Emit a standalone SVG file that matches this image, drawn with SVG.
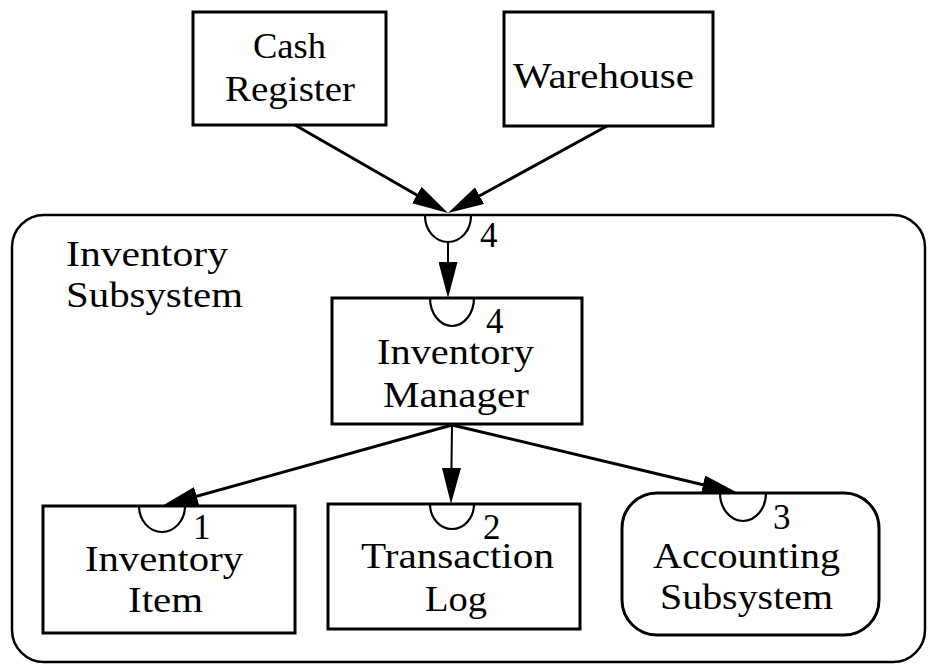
<svg xmlns="http://www.w3.org/2000/svg" width="928" height="664" viewBox="0 0 928 664">
  <style>
    .box { fill: #fff; stroke: #000; stroke-width: 3; }
    .frame { fill: none; stroke: #000; stroke-width: 2.5; }
    .port { fill: none; stroke: #000; stroke-width: 2.2; }
    .lbl { font-family: "Liberation Serif", "Times New Roman", serif; font-size: 35px; fill: #000; }
    .edge { fill: none; stroke: #000; stroke-width: 3; }
    .edge.thin { stroke-width: 2; }
  </style>
  <defs>
    <marker id="arrow" viewBox="0 0 36 19" refX="28" refY="9.5" markerWidth="36" markerHeight="19" markerUnits="userSpaceOnUse" orient="auto">
      <path d="M0,0 L36,9.5 L0,19 z" fill="#000"/>
    </marker>
  </defs>

  <!-- enclosing subsystem -->
  <g id="inventory-subsystem">
    <rect class="frame" x="12" y="215" width="913" height="447" rx="32" ry="32"/>
    <path class="port" d="M425,216 A23,26 0 0 0 471,216"/>
    <text class="lbl" x="480" y="247">4</text>
    <text class="lbl" x="66" y="266" textLength="162" lengthAdjust="spacingAndGlyphs">Inventory</text>
    <text class="lbl" x="66" y="307" textLength="177" lengthAdjust="spacingAndGlyphs">Subsystem</text>
  </g>

  <g id="cash-register">
    <rect class="box" x="193" y="12" width="193" height="113"/>
    <text class="lbl" x="253" y="58" textLength="73" lengthAdjust="spacingAndGlyphs">Cash</text>
    <text class="lbl" x="225" y="101" textLength="130" lengthAdjust="spacingAndGlyphs">Register</text>
  </g>

  <g id="warehouse">
    <rect class="box" x="504" y="12" width="209" height="114"/>
    <text class="lbl" x="513" y="88" textLength="181" lengthAdjust="spacingAndGlyphs">Warehouse</text>
  </g>

  <g id="inventory-manager">
    <rect class="box" x="332" y="298" width="250" height="126"/>
    <path class="port" d="M430,298 A22,28 0 0 0 474,298"/>
    <text class="lbl" x="486" y="333">4</text>
    <text class="lbl" x="377" y="364" textLength="157" lengthAdjust="spacingAndGlyphs">Inventory</text>
    <text class="lbl" x="383" y="407" textLength="146" lengthAdjust="spacingAndGlyphs">Manager</text>
  </g>

  <g id="inventory-item">
    <rect class="box" x="43" y="506" width="252" height="127"/>
    <path class="port" d="M139,506 A23,26 0 0 0 185,506"/>
    <text class="lbl" x="193" y="539">1</text>
    <text class="lbl" x="85" y="571" textLength="158" lengthAdjust="spacingAndGlyphs">Inventory</text>
    <text class="lbl" x="128" y="612" textLength="75" lengthAdjust="spacingAndGlyphs">Item</text>
  </g>

  <g id="transaction-log">
    <rect class="box" x="328" y="504" width="252" height="125"/>
    <path class="port" d="M430,504 A22,25 0 0 0 474,504"/>
    <text class="lbl" x="483" y="539">2</text>
    <text class="lbl" x="361" y="568" textLength="193" lengthAdjust="spacingAndGlyphs">Transaction</text>
    <text class="lbl" x="425" y="611" textLength="62" lengthAdjust="spacingAndGlyphs">Log</text>
  </g>

  <g id="accounting-subsystem">
    <rect class="box" x="622" y="493" width="257" height="142" rx="35" ry="35"/>
    <path class="port" d="M720,493 A23,28 0 0 0 766,493"/>
    <text class="lbl" x="773" y="529">3</text>
    <text class="lbl" x="653" y="568" textLength="187" lengthAdjust="spacingAndGlyphs">Accounting</text>
    <text class="lbl" x="660" y="609" textLength="173" lengthAdjust="spacingAndGlyphs">Subsystem</text>
  </g>

  <!-- connectors -->
  <g id="connectors">
    <path class="edge" d="M295,125 L441.1,209" marker-end="url(#arrow)"/>
    <path class="edge" d="M607,126 L455,209.2" marker-end="url(#arrow)"/>
    <path class="edge thin" d="M448,242 L448,290" marker-end="url(#arrow)"/>
    <path class="edge" d="M452,425 L169.7,503.8" marker-end="url(#arrow)"/>
    <path class="edge thin" d="M452,425 L451.1,496" marker-end="url(#arrow)"/>
    <path class="edge" d="M452,425 L730.2,491.2" marker-end="url(#arrow)"/>
  </g>
</svg>
